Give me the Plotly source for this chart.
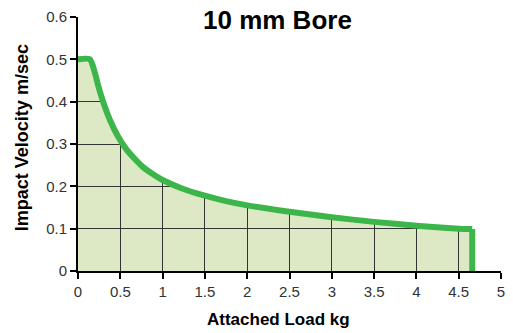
import plotly.graph_objects as go

# Impact velocity limit versus attached load, 10 mm bore cylinder
load_kg = [0, 0.14, 0.2, 0.24, 0.3, 0.375, 0.47, 0.57, 0.67, 0.765, 0.87, 1.0,
           1.23, 1.5, 1.75, 2.0, 2.5, 3.0, 3.5, 4.0, 4.5, 4.66]
velocity = [0.5, 0.5, 0.468, 0.437, 0.398, 0.358, 0.319, 0.288, 0.265, 0.246,
            0.231, 0.215, 0.195, 0.178, 0.165, 0.155, 0.14, 0.127, 0.116, 0.107,
            0.1, 0.099]

x_ticks = [0, 0.5, 1, 1.5, 2, 2.5, 3, 3.5, 4, 4.5, 5]
x_tick_labels = ["0", "0.5", "1", "1.5", "2", "2.5", "3", "3.5", "4", "4.5", "5"]
y_ticks = [0, 0.1, 0.2, 0.3, 0.4, 0.5, 0.6]
y_tick_labels = ["0", "0.1", "0.2", "0.3", "0.4", "0.5", "0.6"]

X_MAX, Y_MAX = 5, 0.6
GREEN = "#3cb54a"
FILL = "#dce9c4"
FONT = "Liberation Sans"

x_end = load_kg[-1]

fig = go.Figure()

# White mask over the region above the curve, so the grid only shows
# inside the permitted (shaded) area.
mask_x = [-0.2] + load_kg + [x_end, X_MAX + 0.2, X_MAX + 0.2, -0.2]
mask_y = [velocity[0]] + velocity + [0, 0, Y_MAX + 0.1, Y_MAX + 0.1]
fig.add_trace(go.Scatter(
    x=mask_x, y=mask_y, mode="lines", fill="toself",
    fillcolor="white", line=dict(width=0), hoverinfo="skip",
))

# Limit curve
fig.add_trace(go.Scatter(
    x=load_kg, y=velocity, mode="lines",
    line=dict(color=GREEN, width=6, shape="spline", smoothing=0.6),
))
# Drop at the maximum load
fig.add_trace(go.Scatter(
    x=[x_end, x_end], y=[velocity[-1], 0], mode="lines",
    line=dict(color=GREEN, width=6),
))

axis_common = dict(
    showgrid=True, gridcolor="#333333", gridwidth=1.2,
    zeroline=False, showline=True, linecolor="black", linewidth=2,
    ticks="outside", ticklen=6, tickcolor="black", tickwidth=1.5,
    tickfont=dict(family=FONT, size=15, color="#333333"),
    layer="above traces",
)

fig.update_layout(
    width=513, height=333,
    margin=dict(l=78, r=8, t=16, b=62),
    paper_bgcolor="white", plot_bgcolor=FILL,
    showlegend=False,
    xaxis=dict(range=[0, X_MAX], tickvals=x_ticks, ticktext=x_tick_labels,
               **axis_common),
    yaxis=dict(range=[0, Y_MAX], tickvals=y_ticks, ticktext=y_tick_labels,
               **axis_common),
    annotations=[
        dict(text="<b>10 mm Bore</b>", x=0.471, y=0.988, xref="paper", yref="paper",
             xanchor="center", yanchor="middle", showarrow=False,
             font=dict(family=FONT, size=26, color="black")),
        dict(text="<b>Attached Load kg</b>", x=0.473, y=-0.19, xref="paper", yref="paper",
             xanchor="center", yanchor="middle", showarrow=False,
             font=dict(family=FONT, size=17, color="black")),
        dict(text="<b>Impact Velocity m/sec</b>", x=-0.1335, y=0.525, xref="paper",
             yref="paper", xanchor="center", yanchor="middle", showarrow=False,
             textangle=-90, font=dict(family=FONT, size=18, color="black")),
    ],
)

fig.write_html("out.html")
